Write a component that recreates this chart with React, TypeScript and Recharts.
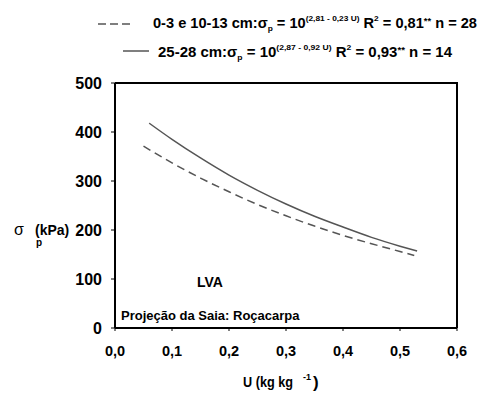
import React from 'react';
import { LineChart, Line, XAxis, YAxis, Customized } from 'recharts';

// soil moisture U (kg/kg) and preconsolidation pressure (kPa)
const moisture = [0.05, 0.06, 0.1, 0.15, 0.2, 0.25, 0.3, 0.35, 0.4, 0.45, 0.5, 0.525, 0.53];
const sigmaSurface = [371, null, 337, 306, 278, 252, 229, 208, 189, 172, 156, 148, null];
const sigmaDeep = [null, 418, 385, 347, 312, 281, 253, 228, 206, 185, 167, null, 157];

const xTicks = [0, 0.1, 0.2, 0.3, 0.4, 0.5, 0.6];
const yTicks = [0, 100, 200, 300, 400, 500];

const data = moisture.map((u, i) => ({ u, surface: sigmaSurface[i], deep: sigmaDeep[i] }));

const FONT = '"Liberation Sans", Arial, sans-serif';
const LINE = '#555';

const W = 480;
const H = 396;
const MARGIN = { top: 83, right: 23, bottom: 0, left: 0 };
const Y_AXIS_W = 115;
const X_AXIS_H = 68;

const PLOT_LEFT = MARGIN.left + Y_AXIS_W;
const PLOT_RIGHT = W - MARGIN.right;
const PLOT_TOP = MARGIN.top;
const PLOT_BOTTOM = H - MARGIN.bottom - X_AXIS_H;

const fmt = (v: number) => v.toFixed(1).replace('.', ',');

const Annotations = () => (
  <g fontFamily={FONT} fontWeight="bold" fill="#000">
    {/* top + right edges of the plot box */}
    <polyline
      points={`${PLOT_LEFT},${PLOT_TOP} ${PLOT_RIGHT},${PLOT_TOP} ${PLOT_RIGHT},${PLOT_BOTTOM}`}
      fill="none"
      stroke="#000"
      strokeWidth={2}
    />
    {/* legend row 1 */}
    <line x1={98} y1={24} x2={131} y2={24} stroke={LINE} strokeWidth={1.5} strokeDasharray="8 4" />
    <text x={153} y={28} fontSize={14} textLength={324} lengthAdjust="spacingAndGlyphs">
      <tspan>0-3 e 10-13 cm:σ</tspan>
      <tspan fontSize={8} dy={3}>p</tspan>
      <tspan dy={-3}> = 10</tspan>
      <tspan fontSize={8} dy={-7}>(2,81 - 0,23 U)</tspan>
      <tspan dy={7}>  R</tspan>
      <tspan fontSize={8} dy={-7}>2</tspan>
      <tspan dy={7}> = 0,81</tspan>
      <tspan fontSize={9} dy={-4}>**</tspan>
      <tspan dy={4}>  n = 28</tspan>
    </text>
    {/* legend row 2 */}
    <line x1={123} y1={51} x2={149} y2={51} stroke={LINE} strokeWidth={1.5} />
    <text x={158} y={57} fontSize={14} textLength={294} lengthAdjust="spacingAndGlyphs">
      <tspan>25-28 cm:σ</tspan>
      <tspan fontSize={8} dy={3}>p</tspan>
      <tspan dy={-3}> = 10</tspan>
      <tspan fontSize={8} dy={-7}>(2,87 - 0,92 U)</tspan>
      <tspan dy={7}>  R</tspan>
      <tspan fontSize={8} dy={-7}>2</tspan>
      <tspan dy={7}> = 0,93</tspan>
      <tspan fontSize={9} dy={-4}>**</tspan>
      <tspan dy={4}>  n = 14</tspan>
    </text>
    <text x={197} y={287} fontSize={14}>LVA</text>
    <text x={121} y={320} fontSize={13}>Projeção da Saia: Roçacarpa</text>
  </g>
);

const YLabel = () => (
  <text fontFamily={FONT} fontWeight="bold" fontSize={14} fill="#000">
    <tspan x={14} y={235} fontWeight="normal" fontSize={16}>σ</tspan>
    <tspan x={35} y={235}>(kPa)</tspan>
    <tspan x={36} y={246} fontSize={10}>p</tspan>
  </text>
);

const XLabel = () => (
  <text fontFamily={FONT} fontWeight="bold" fontSize={14} fill="#000">
    <tspan x={243} y={387} textLength={50} lengthAdjust="spacingAndGlyphs">U (kg kg</tspan>
    <tspan x={303} y={380} fontSize={9}>-1</tspan>
    <tspan x={313} y={388} fontSize={17}>)</tspan>
  </text>
);

const axisStroke = { stroke: '#000', strokeWidth: 2 };

export default function App() {
  return (
    <div style={{ position: 'absolute', left: 0, top: 0, width: W, height: H, background: '#fff' }}>
      <LineChart width={W} height={H} data={data} margin={MARGIN}>
        <XAxis
          dataKey="u"
          type="number"
          domain={[0, 0.6]}
          ticks={xTicks}
          tickFormatter={fmt}
          height={X_AXIS_H}
          axisLine={axisStroke}
          tickLine={{ stroke: '#000' }}
          tickSize={3}
          tickMargin={15}
          tick={{ fill: '#000', fontFamily: FONT, fontWeight: 'bold', fontSize: 14.5 }}
          label={{ content: () => <XLabel /> }}
        />
        <YAxis
          type="number"
          domain={[0, 500]}
          ticks={yTicks}
          width={Y_AXIS_W}
          axisLine={axisStroke}
          tickLine={{ stroke: '#000' }}
          tickSize={4}
          tickMargin={9}
          tick={{ fill: '#000', fontFamily: FONT, fontWeight: 'bold', fontSize: 16 }}
          label={{ content: () => <YLabel /> }}
        />
        <Line
          dataKey="surface"
          type="monotone"
          stroke={LINE}
          strokeWidth={1.5}
          strokeDasharray="8 5"
          dot={false}
          connectNulls
          isAnimationActive={false}
        />
        <Line
          dataKey="deep"
          type="monotone"
          stroke={LINE}
          strokeWidth={1.5}
          dot={false}
          connectNulls
          isAnimationActive={false}
        />
        <Customized component={Annotations} />
      </LineChart>
      <div
        style={{
          position: 'absolute',
          left: PLOT_LEFT,
          top: PLOT_TOP - 1,
          width: PLOT_RIGHT - PLOT_LEFT + 1,
          height: PLOT_BOTTOM - PLOT_TOP + 1,
          borderTop: '2px solid #000',
          borderRight: '2px solid #000',
          boxSizing: 'border-box',
          pointerEvents: 'none',
        }}
      />
    </div>
  );
}
